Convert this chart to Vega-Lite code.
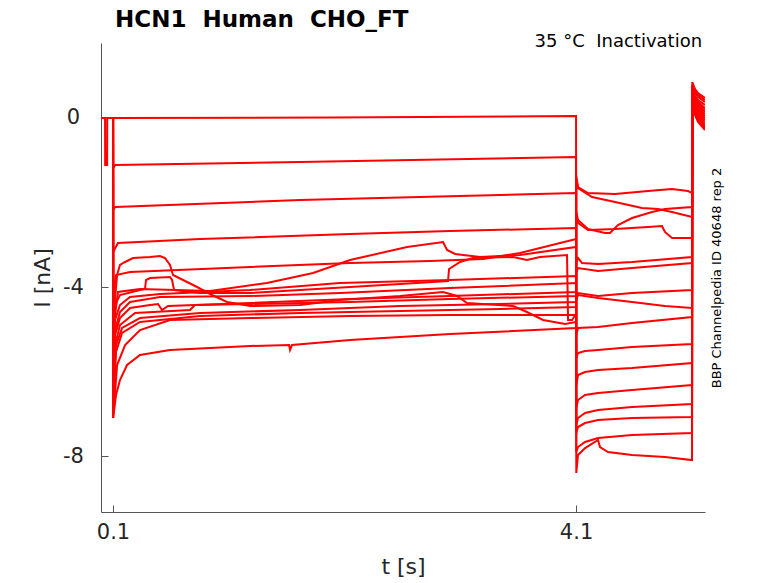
{
  "$schema": "https://vega.github.io/schema/vega-lite/v6.json",
  "width": 604,
  "height": 469,
  "autosize": {"type": "none"},
  "padding": {"left": 101, "top": 43, "right": 73, "bottom": 71},
  "config": {
    "view": {"stroke": null},
    "font": "DejaVu Sans",
    "axis": {
      "grid": false,
      "domainColor": "#555555",
      "tickColor": "#555555",
      "labelColor": "#262626",
      "titleColor": "#262626",
      "labelFontSize": 21,
      "titleFontSize": 22,
      "titleFontWeight": "normal",
      "tickSize": -7
    }
  },
  "datasets": {
    "traces": [
      {"trace":1,"t":0,"I":0},{"trace":1,"t":0.031,"I":0},{"trace":1,"t":0.032,"I":-1.112},{"trace":1,"t":0.049,"I":-1.112},{"trace":1,"t":0.05,"I":0},{"trace":1,"t":0.1,"I":0},{"trace":1,"t":2.0,"I":0.01},{"trace":1,"t":4.1,"I":0.047},{"trace":1,"t":4.102,"I":-8.402},{"trace":1,"t":4.117,"I":-7.976},{"trace":1,"t":4.178,"I":-7.811},{"trace":1,"t":4.29,"I":-7.621},{"trace":1,"t":4.307,"I":-7.787},{"trace":1,"t":4.376,"I":-7.905},{"trace":1,"t":4.584,"I":-7.976},{"trace":1,"t":4.868,"I":-8.024},{"trace":1,"t":5.102,"I":-8.095},{"trace":1,"t":5.104,"I":0.852},{"trace":1,"t":5.128,"I":0.686},{"trace":1,"t":5.154,"I":0.592},{"trace":1,"t":5.214,"I":0.473},
      {"trace":2,"t":0,"I":0},{"trace":2,"t":0.1,"I":0},{"trace":2,"t":0.101,"I":-1.183},{"trace":2,"t":0.12,"I":-1.112},{"trace":2,"t":1.716,"I":-1.041},{"trace":2,"t":4.1,"I":-0.923},{"trace":2,"t":4.102,"I":-7.905},{"trace":2,"t":4.117,"I":-7.787},{"trace":2,"t":4.178,"I":-7.669},{"trace":2,"t":4.29,"I":-7.574},{"trace":2,"t":4.584,"I":-7.503},{"trace":2,"t":5.102,"I":-7.456},{"trace":2,"t":5.104,"I":0.781},{"trace":2,"t":5.128,"I":0.639},{"trace":2,"t":5.154,"I":0.544},{"trace":2,"t":5.214,"I":0.426},
      {"trace":3,"t":0,"I":0},{"trace":3,"t":0.1,"I":0},{"trace":3,"t":0.101,"I":-2.178},{"trace":3,"t":0.12,"I":-2.107},{"trace":3,"t":1.716,"I":-1.941},{"trace":3,"t":4.1,"I":-1.775},{"trace":3,"t":4.102,"I":-7.456},{"trace":3,"t":4.117,"I":-7.314},{"trace":3,"t":4.178,"I":-7.219},{"trace":3,"t":4.29,"I":-7.148},{"trace":3,"t":4.584,"I":-7.101},{"trace":3,"t":5.102,"I":-7.077},{"trace":3,"t":5.104,"I":0.734},{"trace":3,"t":5.128,"I":0.592},{"trace":3,"t":5.154,"I":0.497},{"trace":3,"t":5.214,"I":0.379},
      {"trace":4,"t":0,"I":0},{"trace":4,"t":0.1,"I":0},{"trace":4,"t":0.101,"I":-3.172},{"trace":4,"t":0.143,"I":-2.959},{"trace":4,"t":0.852,"I":-2.864},{"trace":4,"t":2.148,"I":-2.746},{"trace":4,"t":3.011,"I":-2.675},{"trace":4,"t":4.1,"I":-2.604},{"trace":4,"t":4.102,"I":-7.266},{"trace":4,"t":4.117,"I":-7.101},{"trace":4,"t":4.178,"I":-6.982},{"trace":4,"t":4.29,"I":-6.911},{"trace":4,"t":4.584,"I":-6.84},{"trace":4,"t":5.102,"I":-6.769},{"trace":4,"t":5.104,"I":0.686},{"trace":4,"t":5.128,"I":0.521},{"trace":4,"t":5.154,"I":0.426},{"trace":4,"t":5.214,"I":0.308},
      {"trace":5,"t":0,"I":0},{"trace":5,"t":0.1,"I":0},{"trace":5,"t":0.101,"I":-4.308},{"trace":5,"t":0.126,"I":-3.716},{"trace":5,"t":0.247,"I":-3.645},{"trace":5,"t":1.284,"I":-3.527},{"trace":5,"t":2.148,"I":-3.432},{"trace":5,"t":2.839,"I":-3.385},{"trace":5,"t":3.297,"I":-3.337},{"trace":5,"t":3.616,"I":-3.195},{"trace":5,"t":4.1,"I":-2.864},{"trace":5,"t":4.102,"I":-6.864},{"trace":5,"t":4.117,"I":-6.675},{"trace":5,"t":4.178,"I":-6.556},{"trace":5,"t":4.29,"I":-6.509},{"trace":5,"t":4.584,"I":-6.438},{"trace":5,"t":5.102,"I":-6.32},{"trace":5,"t":5.104,"I":0.663},{"trace":5,"t":5.128,"I":0.473},{"trace":5,"t":5.154,"I":0.379},{"trace":5,"t":5.214,"I":0.237},
      {"trace":6,"t":0,"I":0},{"trace":6,"t":0.1,"I":0},{"trace":6,"t":0.101,"I":-5.018},{"trace":6,"t":0.143,"I":-4.118},{"trace":6,"t":0.333,"I":-4.047},{"trace":6,"t":0.938,"I":-4.095},{"trace":6,"t":1.43,"I":-3.905},{"trace":6,"t":1.828,"I":-3.669},{"trace":6,"t":2.148,"I":-3.361},{"trace":6,"t":2.64,"I":-3.053},{"trace":6,"t":2.951,"I":-2.935},{"trace":6,"t":2.986,"I":-3.124},{"trace":6,"t":3.055,"I":-3.219},{"trace":6,"t":3.271,"I":-3.29},{"trace":6,"t":3.616,"I":-3.243},{"trace":6,"t":4.1,"I":-3.053},{"trace":6,"t":4.102,"I":-6.32},{"trace":6,"t":4.117,"I":-6.083},{"trace":6,"t":4.178,"I":-6.012},{"trace":6,"t":4.29,"I":-5.964},{"trace":6,"t":4.584,"I":-5.917},{"trace":6,"t":5.102,"I":-5.799},{"trace":6,"t":5.104,"I":0.615},{"trace":6,"t":5.128,"I":0.426},{"trace":6,"t":5.154,"I":0.331},{"trace":6,"t":5.214,"I":0.189},
      {"trace":7,"t":0,"I":0},{"trace":7,"t":0.1,"I":0},{"trace":7,"t":0.101,"I":-5.254},{"trace":7,"t":0.117,"I":-4.426},{"trace":7,"t":0.16,"I":-4.189},{"trace":7,"t":0.333,"I":-4.071},{"trace":7,"t":0.376,"I":-4.047},{"trace":7,"t":0.385,"I":-3.834},{"trace":7,"t":0.42,"I":-3.787},{"trace":7,"t":0.592,"I":-3.763},{"trace":7,"t":0.61,"I":-3.834},{"trace":7,"t":0.627,"I":-4.071},{"trace":7,"t":0.852,"I":-4.142},{"trace":7,"t":1.284,"I":-4.142},{"trace":7,"t":1.716,"I":-4.071},{"trace":7,"t":2.148,"I":-4.0},{"trace":7,"t":2.58,"I":-3.929},{"trace":7,"t":2.994,"I":-3.858},{"trace":7,"t":3.003,"I":-3.574},{"trace":7,"t":3.098,"I":-3.408},{"trace":7,"t":3.21,"I":-3.314},{"trace":7,"t":3.556,"I":-3.29},{"trace":7,"t":3.676,"I":-3.361},{"trace":7,"t":3.789,"I":-3.29},{"trace":7,"t":4.022,"I":-3.243},{"trace":7,"t":4.031,"I":-4.781},{"trace":7,"t":4.065,"I":-4.781},{"trace":7,"t":4.1,"I":-4.639},{"trace":7,"t":4.102,"I":-5.68},{"trace":7,"t":4.117,"I":-5.562},{"trace":7,"t":4.178,"I":-5.515},{"trace":7,"t":4.29,"I":-5.491},{"trace":7,"t":4.584,"I":-5.42},{"trace":7,"t":5.102,"I":-5.349},{"trace":7,"t":5.104,"I":0.592},{"trace":7,"t":5.128,"I":0.379},{"trace":7,"t":5.154,"I":0.284},{"trace":7,"t":5.214,"I":0.142},
      {"trace":8,"t":0,"I":0},{"trace":8,"t":0.1,"I":0},{"trace":8,"t":0.101,"I":-5.491},{"trace":8,"t":0.117,"I":-4.781},{"trace":8,"t":0.16,"I":-4.426},{"trace":8,"t":0.247,"I":-4.237},{"trace":8,"t":0.506,"I":-4.166},{"trace":8,"t":1.284,"I":-4.071},{"trace":8,"t":2.061,"I":-3.905},{"trace":8,"t":3.011,"I":-3.834},{"trace":8,"t":4.1,"I":-3.74},{"trace":8,"t":4.102,"I":-5.136},{"trace":8,"t":4.117,"I":-4.97},{"trace":8,"t":4.29,"I":-4.947},{"trace":8,"t":4.584,"I":-4.852},{"trace":8,"t":5.102,"I":-4.71},{"trace":8,"t":5.104,"I":0.568},{"trace":8,"t":5.128,"I":0.355},{"trace":8,"t":5.154,"I":0.237},{"trace":8,"t":5.214,"I":0.095},
      {"trace":9,"t":0,"I":0},{"trace":9,"t":0.1,"I":0},{"trace":9,"t":0.101,"I":-5.728},{"trace":9,"t":0.117,"I":-4.308},{"trace":9,"t":0.135,"I":-3.716},{"trace":9,"t":0.16,"I":-3.479},{"trace":9,"t":0.204,"I":-3.408},{"trace":9,"t":0.273,"I":-3.314},{"trace":9,"t":0.42,"I":-3.29},{"trace":9,"t":0.506,"I":-3.266},{"trace":9,"t":0.549,"I":-3.314},{"trace":9,"t":0.592,"I":-3.479},{"trace":9,"t":0.618,"I":-3.716},{"trace":9,"t":0.705,"I":-3.834},{"trace":9,"t":0.826,"I":-4.0},{"trace":9,"t":0.955,"I":-4.189},{"trace":9,"t":1.085,"I":-4.355},{"trace":9,"t":1.284,"I":-4.45},{"trace":9,"t":1.716,"I":-4.426},{"trace":9,"t":2.061,"I":-4.308},{"trace":9,"t":2.58,"I":-4.213},{"trace":9,"t":2.951,"I":-4.118},{"trace":9,"t":3.072,"I":-4.213},{"trace":9,"t":3.158,"I":-4.379},{"trace":9,"t":3.556,"I":-4.45},{"trace":9,"t":3.676,"I":-4.592},{"trace":9,"t":3.815,"I":-4.781},{"trace":9,"t":4.005,"I":-4.876},{"trace":9,"t":4.1,"I":-4.828},{"trace":9,"t":4.102,"I":-4.308},{"trace":9,"t":4.117,"I":-4.189},{"trace":9,"t":4.29,"I":-4.26},{"trace":9,"t":4.584,"I":-4.355},{"trace":9,"t":4.868,"I":-4.45},{"trace":9,"t":5.102,"I":-4.497},{"trace":9,"t":5.104,"I":0.544},{"trace":9,"t":5.128,"I":0.308},{"trace":9,"t":5.154,"I":0.189},{"trace":9,"t":5.214,"I":0.047},
      {"trace":10,"t":0,"I":0},{"trace":10,"t":0.1,"I":0},{"trace":10,"t":0.101,"I":-5.964},{"trace":10,"t":0.117,"I":-5.018},{"trace":10,"t":0.16,"I":-4.592},{"trace":10,"t":0.247,"I":-4.355},{"trace":10,"t":0.506,"I":-4.237},{"trace":10,"t":1.284,"I":-4.213},{"trace":10,"t":2.061,"I":-4.142},{"trace":10,"t":3.011,"I":-4.024},{"trace":10,"t":4.1,"I":-3.905},{"trace":10,"t":4.102,"I":-4.26},{"trace":10,"t":4.117,"I":-4.142},{"trace":10,"t":4.29,"I":-4.213},{"trace":10,"t":4.584,"I":-4.142},{"trace":10,"t":5.102,"I":-4.071},{"trace":10,"t":5.104,"I":0.521},{"trace":10,"t":5.128,"I":0.284},{"trace":10,"t":5.154,"I":0.142},{"trace":10,"t":5.214,"I":0},
      {"trace":11,"t":0,"I":0},{"trace":11,"t":0.1,"I":0},{"trace":11,"t":0.101,"I":-6.201},{"trace":11,"t":0.117,"I":-5.136},{"trace":11,"t":0.16,"I":-4.734},{"trace":11,"t":0.247,"I":-4.497},{"trace":11,"t":0.42,"I":-4.426},{"trace":11,"t":0.489,"I":-4.402},{"trace":11,"t":0.523,"I":-4.544},{"trace":11,"t":0.575,"I":-4.45},{"trace":11,"t":1.284,"I":-4.379},{"trace":11,"t":2.148,"I":-4.284},{"trace":11,"t":3.011,"I":-4.213},{"trace":11,"t":4.1,"I":-4.118},{"trace":11,"t":4.102,"I":-3.645},{"trace":11,"t":4.117,"I":-3.55},{"trace":11,"t":4.29,"I":-3.621},{"trace":11,"t":4.584,"I":-3.55},{"trace":11,"t":5.102,"I":-3.432},{"trace":11,"t":5.104,"I":0.497},{"trace":11,"t":5.128,"I":0.237},{"trace":11,"t":5.154,"I":0.095},{"trace":11,"t":5.214,"I":-0.047},
      {"trace":12,"t":0,"I":0},{"trace":12,"t":0.1,"I":0},{"trace":12,"t":0.101,"I":-6.438},{"trace":12,"t":0.117,"I":-5.373},{"trace":12,"t":0.16,"I":-4.899},{"trace":12,"t":0.29,"I":-4.615},{"trace":12,"t":0.765,"I":-4.544},{"trace":12,"t":0.808,"I":-4.426},{"trace":12,"t":1.284,"I":-4.402},{"trace":12,"t":2.148,"I":-4.355},{"trace":12,"t":3.011,"I":-4.284},{"trace":12,"t":4.1,"I":-4.213},{"trace":12,"t":4.102,"I":-3.408},{"trace":12,"t":4.117,"I":-3.314},{"trace":12,"t":4.152,"I":-3.432},{"trace":12,"t":4.29,"I":-3.456},{"trace":12,"t":4.584,"I":-3.408},{"trace":12,"t":5.102,"I":-3.29},{"trace":12,"t":5.104,"I":0.473},{"trace":12,"t":5.128,"I":0.213},{"trace":12,"t":5.154,"I":0.047},{"trace":12,"t":5.214,"I":-0.095},
      {"trace":13,"t":0,"I":0},{"trace":13,"t":0.1,"I":0},{"trace":13,"t":0.101,"I":-6.675},{"trace":13,"t":0.126,"I":-5.373},{"trace":13,"t":0.178,"I":-4.97},{"trace":13,"t":0.333,"I":-4.734},{"trace":13,"t":0.852,"I":-4.615},{"trace":13,"t":1.716,"I":-4.544},{"trace":13,"t":2.58,"I":-4.45},{"trace":13,"t":3.443,"I":-4.402},{"trace":13,"t":4.1,"I":-4.355},{"trace":13,"t":4.102,"I":-2.296},{"trace":13,"t":4.117,"I":-2.485},{"trace":13,"t":4.203,"I":-2.651},{"trace":13,"t":4.437,"I":-2.627},{"trace":13,"t":4.722,"I":-2.58},{"trace":13,"t":4.842,"I":-2.556},{"trace":13,"t":4.868,"I":-2.698},{"trace":13,"t":4.929,"I":-2.84},{"trace":13,"t":5.102,"I":-2.84},{"trace":13,"t":5.104,"I":0.45},{"trace":13,"t":5.128,"I":0.166},{"trace":13,"t":5.154,"I":0},{"trace":13,"t":5.214,"I":-0.142},
      {"trace":14,"t":0,"I":0},{"trace":14,"t":0.1,"I":0},{"trace":14,"t":0.101,"I":-6.911},{"trace":14,"t":0.126,"I":-5.538},{"trace":14,"t":0.178,"I":-5.089},{"trace":14,"t":0.333,"I":-4.828},{"trace":14,"t":0.852,"I":-4.686},{"trace":14,"t":1.716,"I":-4.615},{"trace":14,"t":2.58,"I":-4.568},{"trace":14,"t":3.443,"I":-4.521},{"trace":14,"t":4.1,"I":-4.473},{"trace":14,"t":4.102,"I":-2.225},{"trace":14,"t":4.117,"I":-2.414},{"trace":14,"t":4.203,"I":-2.627},{"trace":14,"t":4.35,"I":-2.722},{"trace":14,"t":4.393,"I":-2.722},{"trace":14,"t":4.462,"I":-2.533},{"trace":14,"t":4.584,"I":-2.367},{"trace":14,"t":4.756,"I":-2.225},{"trace":14,"t":4.868,"I":-2.154},{"trace":14,"t":5.102,"I":-2.107},{"trace":14,"t":5.104,"I":0.426},{"trace":14,"t":5.128,"I":0.142},{"trace":14,"t":5.154,"I":-0.024},{"trace":14,"t":5.214,"I":-0.189},
      {"trace":15,"t":0,"I":0},{"trace":15,"t":0.1,"I":0},{"trace":15,"t":0.101,"I":-7.101},{"trace":15,"t":0.135,"I":-5.846},{"trace":15,"t":0.204,"I":-5.373},{"trace":15,"t":0.333,"I":-5.018},{"trace":15,"t":0.592,"I":-4.781},{"trace":15,"t":1.284,"I":-4.734},{"trace":15,"t":2.148,"I":-4.686},{"trace":15,"t":3.011,"I":-4.663},{"trace":15,"t":4.1,"I":-4.663},{"trace":15,"t":4.102,"I":-1.467},{"trace":15,"t":4.117,"I":-1.657},{"trace":15,"t":4.238,"I":-1.87},{"trace":15,"t":4.437,"I":-1.988},{"trace":15,"t":4.67,"I":-2.13},{"trace":15,"t":4.808,"I":-2.154},{"trace":15,"t":4.929,"I":-2.225},{"trace":15,"t":5.102,"I":-2.343},{"trace":15,"t":5.104,"I":0.402},{"trace":15,"t":5.128,"I":0.095},{"trace":15,"t":5.154,"I":-0.071},{"trace":15,"t":5.214,"I":-0.237},
      {"trace":16,"t":0,"I":0},{"trace":16,"t":0.1,"I":0},{"trace":16,"t":0.101,"I":-7.101},{"trace":16,"t":0.126,"I":-6.556},{"trace":16,"t":0.16,"I":-6.201},{"trace":16,"t":0.221,"I":-5.846},{"trace":16,"t":0.333,"I":-5.609},{"trace":16,"t":0.592,"I":-5.491},{"trace":16,"t":1.284,"I":-5.396},{"trace":16,"t":1.621,"I":-5.373},{"trace":16,"t":1.629,"I":-5.491},{"trace":16,"t":1.646,"I":-5.373},{"trace":16,"t":2.148,"I":-5.254},{"trace":16,"t":3.011,"I":-5.112},{"trace":16,"t":4.1,"I":-4.97},{"trace":16,"t":4.102,"I":-1.373},{"trace":16,"t":4.117,"I":-1.633},{"trace":16,"t":4.203,"I":-1.775},{"trace":16,"t":4.437,"I":-1.799},{"trace":16,"t":4.722,"I":-1.728},{"trace":16,"t":4.929,"I":-1.68},{"trace":16,"t":5.067,"I":-1.728},{"trace":16,"t":5.102,"I":-1.775},{"trace":16,"t":5.104,"I":0.379},{"trace":16,"t":5.128,"I":0.071},{"trace":16,"t":5.154,"I":-0.095},{"trace":16,"t":5.214,"I":-0.284}
    ],
    "notes": [
      {"kind": "title", "t": 0.117, "I": 2.154, "label": "HCN1\u00a0 Human\u00a0 CHO_FT"},
      {"kind": "cond", "t": 5.189, "I": 1.688, "label": "35 °C\u00a0 Inactivation"},
      {"kind": "id", "t": 5.318, "I": -3.787, "label": "BBP Channelpedia ID 40648 rep 2"}
    ]
  },
  "layer": [
    {
      "data": {"name": "traces"},
      "mark": {"type": "line", "color": "#ff0000", "strokeWidth": 2, "clip": true},
      "encoding": {
        "x": {
          "field": "t",
          "type": "quantitative",
          "scale": {"domain": [-0.004, 5.214], "nice": false, "zero": false},
          "axis": {"values": [0.1, 4.1], "format": ".1f", "title": "t [s]", "labelPadding": 16, "titlePadding": 14}
        },
        "y": {
          "field": "I",
          "type": "quantitative",
          "scale": {"domain": [-9.325, 1.775], "nice": false, "zero": false},
          "axis": {"values": [0, -4, -8], "labelExpr": "datum.value + ''", "title": "I [nA]", "labelAlign": "center", "labelPadding": 35, "titlePadding": 8}
        },
        "detail": {"field": "trace", "type": "nominal"}
      }
    },
    {
      "data": {"name": "notes"},
      "transform": [{"filter": "datum.kind == 'title'"}],
      "mark": {"type": "text", "align": "left", "baseline": "alphabetic", "fontSize": 23, "fontWeight": "bold", "color": "#000000", "clip": false},
      "encoding": {
        "x": {"field": "t", "type": "quantitative"},
        "y": {"field": "I", "type": "quantitative"},
        "text": {"field": "label"}
      }
    },
    {
      "data": {"name": "notes"},
      "transform": [{"filter": "datum.kind == 'cond'"}],
      "mark": {"type": "text", "align": "right", "baseline": "alphabetic", "fontSize": 18, "color": "#000000"},
      "encoding": {
        "x": {"field": "t", "type": "quantitative"},
        "y": {"field": "I", "type": "quantitative"},
        "text": {"field": "label"}
      }
    },
    {
      "data": {"name": "notes"},
      "transform": [{"filter": "datum.kind == 'id'"}],
      "mark": {"type": "text", "align": "center", "baseline": "middle", "angle": 270, "fontSize": 13, "color": "#000000", "clip": false},
      "encoding": {
        "x": {"field": "t", "type": "quantitative"},
        "y": {"field": "I", "type": "quantitative"},
        "text": {"field": "label"}
      }
    }
  ]
}
